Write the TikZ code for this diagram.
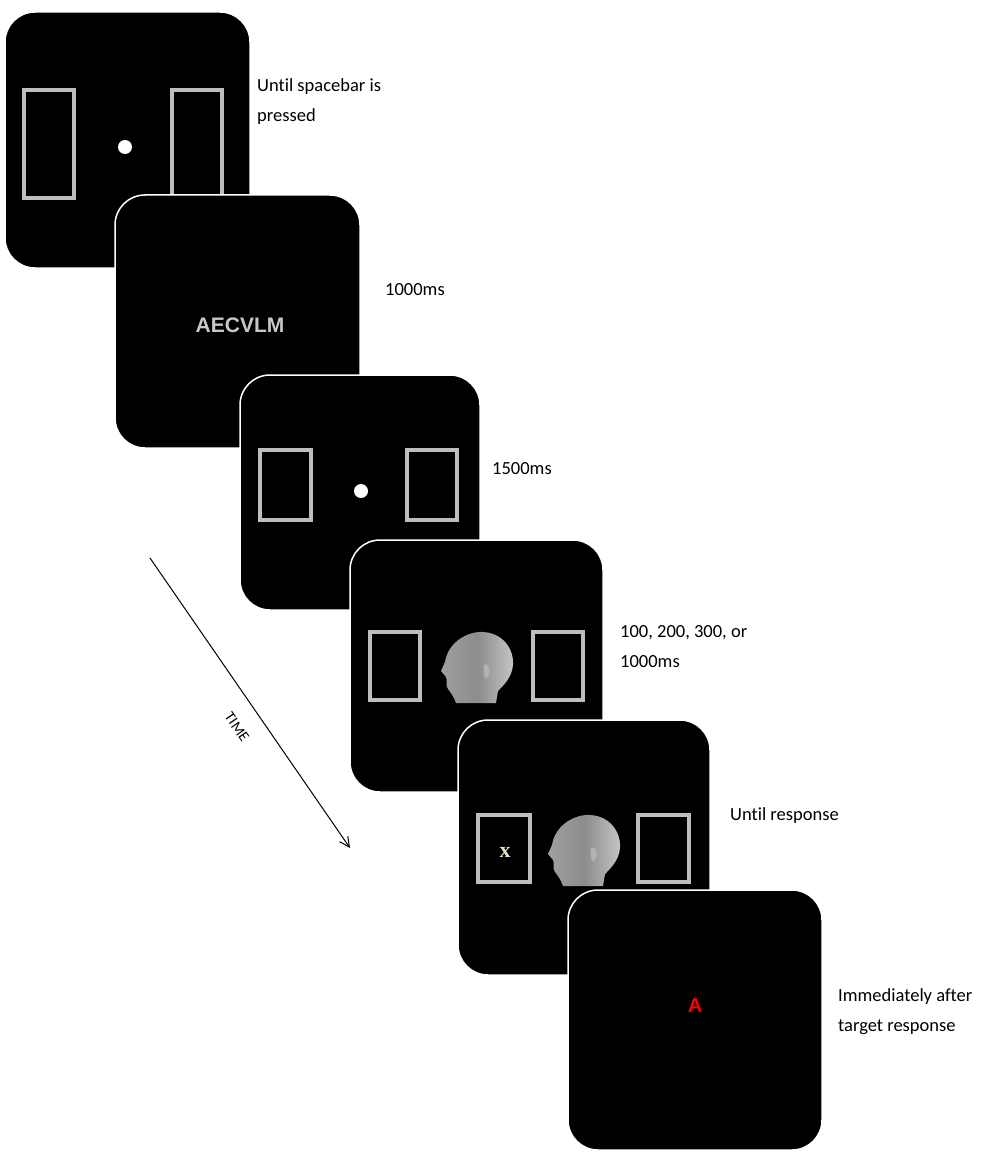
\documentclass[tikz,border=0pt]{standalone}
\usepackage{fontspec}
\usetikzlibrary{arrows.meta}
\setmainfont{Carlito}[RawFeature={-liga}]
\newfontfamily\arialf{Liberation Sans}
\newfontfamily\timesf{Liberation Serif}
\begin{document}
\begin{tikzpicture}[x=1pt,y=-1pt,
  screen/.style={fill=black,draw=white,line width=1.5pt,rounded corners=30pt},
  gbox/.style={draw={rgb,255:red,190;green,190;blue,190},line width=4pt},
  lbl/.style={anchor=west,align=left,font=\fontsize{18.5}{30}\selectfont,inner sep=0pt},
  pics/head/.style={code={
    \fill[left color=gray!75,right color=gray!45,middle color=gray!90]
      (-33,-5) .. controls (-30,-25) and (-10,-36) .. (5,-35)
      .. controls (25,-34) and (36,-18) .. (35,-2)
      .. controls (34,10) and (26,18) .. (20,24)
      -- (18,36) -- (-22,36)
      .. controls (-24,30) and (-27,26) .. (-30,22)
      .. controls (-33,18) and (-30,14) .. (-32,10)
      -- (-37,4) .. controls (-36,1) and (-34,-2) .. (-33,-5) -- cycle;
    \fill[gray!60] (6,-2) .. controls (12,-6) and (14,8) .. (8,12) .. controls (6,10) and (5,4) .. (6,-2);
  }}]
\useasboundingbox[fill=white] (0,0) rectangle (1000,1161);
% screen 1
\draw[screen] (5,12) rectangle (250,268);
\draw[gbox] (24,90) rectangle (74,198);
\draw[gbox] (172,90) rectangle (222,198);
\fill[white] (125,147) circle (7);
% screen 2
\draw[screen] (115,195) rectangle (360,448);
\node[font=\arialf\bfseries\fontsize{21}{24}\selectfont,text={rgb,255:red,200;green,200;blue,200}] (t2) at (240,325) {AECVLM};
% screen 3
\draw[screen] (240,375) rectangle (480,610);
\draw[gbox] (260,450) rectangle (311,520);
\draw[gbox] (407,450) rectangle (457,520);
\fill[white] (361,491) circle (7);
% screen 4
\draw[screen] (350,540) rectangle (603,792);
\draw[gbox] (370,632) rectangle (420,700);
\draw[gbox] (533,632) rectangle (583,700);
\pic at (478,667) {head};
% screen 5
\draw[screen] (458,720) rectangle (710,975);
\draw[gbox] (478,815) rectangle (530,882);
\node[font=\timesf\bfseries\fontsize{22}{24}\selectfont,text={rgb,255:red,225;green,225;blue,200}] (x5) at (505,852) {x};
\draw[gbox] (638,815) rectangle (689,882);
\pic at (585,850) {head};
% screen 6
\draw[screen] (568,890) rectangle (822,1150);
\node[font=\arialf\bfseries\fontsize{20}{22}\selectfont,text=red] (a6) at (695,1006) {A};
% labels
\node[lbl] (l1) at (257,102) {Until spacebar is\\pressed};
\node[lbl] (l2) at (385,290) {1000ms};
\node[lbl] (l3) at (492,469) {1500ms};
\node[lbl] (l4) at (620,647) {100, 200, 300, or\\1000ms};
\node[lbl] (l5) at (730,816) {Until response};
\node[lbl] (l6) at (838,1012) {Immediately after\\target response};
% time arrow
\coordinate (ta) at (150,558);
\coordinate (tb) at (350,848);
\draw[-{Straight Barb[length=10pt,width=10pt]},line width=1pt] (ta) -- (tb);
\node[rotate=-55.4,font=\fontsize{15}{16}\selectfont] (time) at (237,727) {TIME};
\end{tikzpicture}
\end{document}
